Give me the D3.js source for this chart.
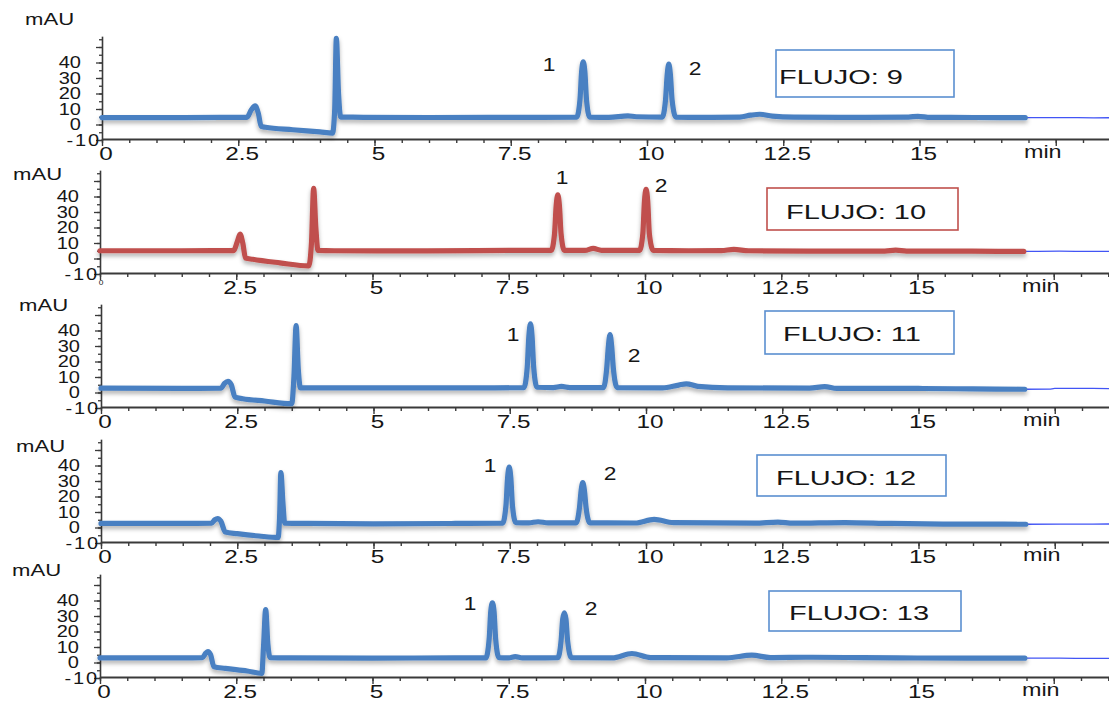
<!DOCTYPE html>
<html>
<head>
<meta charset="utf-8">
<script src="https://cdn.jsdelivr.net/npm/d3@7"></script>
<style>
body { margin: 0; background: #fff; }
text { font-family: "Liberation Sans", Arial, sans-serif; fill: #161616; }
.axis path, .axis line { stroke: #3a3a3a; }
</style>
</head>
<body>
<script>
var width = 1109,
    height = 702;

// chromatograms, [min, mAU]
var flujo9 = [[0,4.5],[1.5,4.5],[2.66,4.6],[2.74,9.5],[2.81,12],[2.87,7],[2.92,-1.2],[3.0,-1.8],[3.5,-3.4],[4.0,-4.8],[4.23,-5.5],[4.27,10],[4.30,55.6],[4.34,20],[4.38,4.8],[4.6,4.7],[6,4.5],[7.5,4.6],[8.71,4.7],[8.77,16],[8.80,34],[8.83,40.5],[8.86,34],[8.89,16],[8.95,4.8],[9.3,4.6],[9.65,5.6],[9.8,5.0],[10.28,4.8],[10.34,16],[10.37,32],[10.40,39],[10.43,32],[10.46,16],[10.53,4.8],[11,4.6],[11.7,4.8],[11.9,6],[12.07,6.6],[12.3,5.4],[12.7,4.8],[14,4.6],[14.8,4.8],[14.97,5.3],[15.2,4.6],[16,4.5],[16.94,4.4]];
var flujo10 = [[0,5],[1.5,5],[2.45,5.1],[2.52,11],[2.57,15.8],[2.62,10],[2.67,0.3],[2.8,-0.5],[3.3,-2.8],[3.83,-4.8],[3.88,10],[3.92,45.3],[3.96,20],[4.0,5.2],[4.3,5],[6,4.9],[7.5,5.2],[8.28,5.3],[8.34,16],[8.37,34],[8.40,41],[8.43,34],[8.46,16],[8.52,5.3],[8.9,5.2],[9.05,6.5],[9.2,5.3],[9.90,5.3],[9.96,16],[9.99,37],[10.02,44.6],[10.05,37],[10.08,16],[10.15,5.3],[10.8,5],[11.4,5.1],[11.63,5.9],[11.9,5],[13,4.8],[14.4,4.8],[14.6,5.4],[14.8,4.8],[16,4.7],[16.95,4.6]];
var flujo11 = [[0,2.8],[1.5,2.7],[2.2,2.8],[2.27,6],[2.33,7.2],[2.39,5],[2.46,-3],[2.6,-4],[3.0,-5.5],[3.50,-7.2],[3.54,10],[3.58,43.2],[3.62,15],[3.66,3],[4,3],[5.5,3],[7,3],[7.76,3.2],[7.82,16],[7.85,36],[7.88,44.3],[7.91,36],[7.94,16],[8.0,3.4],[8.3,3.2],[8.45,3.9],[8.6,3.2],[9.22,3.2],[9.28,16],[9.31,30],[9.34,37.3],[9.37,30],[9.40,16],[9.47,3.2],[10.3,3],[10.6,4.8],[10.74,5.6],[10.95,4],[11.5,3],[13,2.8],[13.28,3.8],[13.5,2.6],[15,2.6],[16,2.3],[16.95,2.1]];
var flujo12 = [[0,2.6],[1.5,2.6],[2.03,2.8],[2.09,5],[2.14,5.7],[2.2,4],[2.28,-2.9],[2.5,-4],[2.9,-5.5],[3.25,-6.4],[3.28,10],[3.30,35.4],[3.34,15],[3.37,2.8],[3.8,2.6],[5,2.4],[6.5,2.6],[7.37,2.8],[7.43,14],[7.46,32],[7.49,39],[7.52,32],[7.55,14],[7.61,3.2],[7.85,3],[8.02,3.7],[8.2,3],[8.72,3],[8.78,13],[8.81,24],[8.84,28.9],[8.87,24],[8.90,13],[8.97,3],[9.8,2.9],[10.15,5.3],[10.5,3.2],[12,2.8],[12.42,3.5],[12.7,2.8],[13.65,3.2],[14.5,2.6],[15.5,2.2],[16.97,2.1]];
var flujo13 = [[0,3],[1.5,3],[1.88,3.2],[1.94,6],[1.98,7.1],[2.03,5],[2.09,-2.7],[2.3,-3.8],[2.7,-5.5],[2.97,-7],[3.00,10],[3.04,34.2],[3.08,12],[3.12,3.2],[3.5,3],[5,2.8],[6.5,3],[7.08,3],[7.14,15],[7.17,33],[7.20,38.5],[7.23,33],[7.26,15],[7.32,3.2],[7.5,3],[7.62,3.8],[7.75,3],[8.40,3.1],[8.46,14],[8.49,28],[8.52,32.1],[8.55,28],[8.58,14],[8.65,3.1],[9.4,3],[9.76,5.8],[10.1,3.2],[11.5,3],[11.96,4.7],[12.3,3.2],[13,3.4],[14,3.1],[15,2.9],[16.97,2.8]];

// thin trace after the run ends
var tail9 = [[16.94,4.4],[17.6,4.5],[18.2,4.3],[18.7,4.4]];
var tail10 = [[16.95,4.6],[17.6,4.7],[18.2,4.6],[18.7,4.6]];
var tail11 = [[16.95,2.1],[17.4,2.2],[17.5,2.6],[18.2,2.6],[18.7,2.5]];
var tail12 = [[16.97,2.1],[17.6,2.2],[18.2,2.2],[18.7,2.3]];
var tail13 = [[16.97,2.8],[17.6,2.8],[18.2,2.6],[18.7,2.8]];

var xTicks = [0, 2.5, 5, 7.5, 10, 12.5, 15];
var xTickLabels = ["0", "2.5", "5", "7.5", "10", "12.5", "15"];
var yTicks = [-10, 0, 10, 20, 30, 40];
var yTickLabels = ["-10", "0", "10", "20", "30", "40"];
var flujoLabels = ["FLUJO: 9", "FLUJO: 10", "FLUJO: 11", "FLUJO: 12", "FLUJO: 13"];
var peakNames = ["1", "2"];

var blue = "#4a80c2", red = "#c0504d";

var panels = [
  {data: flujo9,  tail: tail9,  color: blue, box: "#5b8fd0", x0: 102, axisY: 139, mau: [25, 25],  rect: [776, 50, 178, 47],  tx: 779, ty: 84,  p1: [549, 71],  p2: [695, 75]},
  {data: flujo10, tail: tail10, color: red,  box: red,       x0: 100, axisY: 273, mau: [13, 180], rect: [767, 188, 191, 42], tx: 786, ty: 219, p1: [562, 184], p2: [661, 192], tinyZero: true},
  {data: flujo11, tail: tail11, color: blue, box: "#5b8fd0", x0: 101, axisY: 407, mau: [19, 311], rect: [765, 311, 189, 43], tx: 783, ty: 341, p1: [513, 341], p2: [634, 362]},
  {data: flujo12, tail: tail12, color: blue, box: "#5b8fd0", x0: 101, axisY: 542, mau: [16, 452], rect: [757, 455, 189, 41], tx: 776, ty: 485, p1: [490, 472], p2: [610, 480]},
  {data: flujo13, tail: tail13, color: blue, box: "#5b8fd0", x0: 100, axisY: 677, mau: [12, 576], rect: [769, 591, 192, 40], tx: 789, ty: 620, p1: [470, 610], p2: [591, 615]}
];

var svg = d3.select("body").append("svg")
    .attr("width", width)
    .attr("height", height);

var defs = svg.append("defs");
var shadow = defs.append("filter").attr("id", "shadow")
    .attr("x", "-5%").attr("y", "-20%").attr("width", "110%").attr("height", "160%");
shadow.append("feDropShadow")
    .attr("dx", 0).attr("dy", 3)
    .attr("stdDeviation", 2.2)
    .attr("flood-color", "#000")
    .attr("flood-opacity", 0.3);

// stretched text, the original figure is widened
function stext(g, x, y, str, size, anchor, sx) {
  return g.append("text")
      .attr("transform", "translate(" + x + "," + y + ") scale(" + sx + ",1)")
      .attr("text-anchor", anchor)
      .style("font-size", size + "px")
      .text(str);
}

panels.forEach(function(p, i) {
  var g = svg.append("g");
  var x = d3.scaleLinear()
      .domain([0, (width - p.x0) / 54.5])
      .range([p.x0, width]);
  var y = d3.scaleLinear()
      .domain([-10, 57])
      .range([p.axisY + 1, p.axisY + 1 - 67 * 1.55]);

  // x axis: minor every 0.5 min, major every 2.5
  g.append("g").attr("class", "axis")
      .attr("transform", "translate(0," + p.axisY + ")")
      .call(d3.axisBottom(x).tickValues(d3.range(0, 18.6, 0.5)).tickSize(4).tickSizeOuter(0).tickFormat(""))
      .call(function(a) { a.select(".domain").attr("stroke-width", 2); a.selectAll("line").attr("stroke-width", 1.4); });
  g.append("g").attr("class", "axis")
      .attr("transform", "translate(0," + p.axisY + ")")
      .call(d3.axisBottom(x).tickValues([0, 2.5, 5, 7.5, 10, 12.5, 15, 17.5]).tickSize(7).tickSizeOuter(0).tickFormat(""))
      .call(function(a) { a.select(".domain").remove(); a.selectAll("line").attr("stroke-width", 1.4); });

  // y axis
  g.append("g").attr("class", "axis")
      .attr("transform", "translate(" + p.x0 + ",0)")
      .call(d3.axisLeft(y).tickValues(d3.range(-10, 56, 5)).tickSize(3).tickSizeOuter(0).tickFormat(""))
      .call(function(a) { a.select(".domain").attr("stroke-width", 1.6); a.selectAll("line").attr("stroke-width", 1.3); });
  g.append("g").attr("class", "axis")
      .attr("transform", "translate(" + p.x0 + ",0)")
      .call(d3.axisLeft(y).tickValues(d3.range(-10, 56, 10)).tickSize(6).tickSizeOuter(0).tickFormat(""))
      .call(function(a) { a.select(".domain").remove(); a.selectAll("line").attr("stroke-width", 1.3); });

  // tick labels
  xTicks.forEach(function(t, k) {
    if (k === 0 && p.tinyZero) {
      stext(g, x(t) + 1, p.axisY + 12, "0", 7, "middle", 1.2);
    } else {
      stext(g, x(t) + 4, p.axisY + 21, xTickLabels[k], 18, "middle", 1.35);
    }
  });
  stext(g, x(17.5) - 13, p.axisY + 19, "min", 18, "middle", 1.3);
  yTicks.forEach(function(v, k) {
    var xr = v < 0 ? p.x0 - 1 : p.x0 - 21;
    stext(g, xr, y(v) + 5.5, yTickLabels[k], 16, "end", 1.25)
        .style("letter-spacing", v < 0 ? "1.5px" : null);
  });
  stext(g, p.mau[0], p.mau[1], "mAU", 17, "start", 1.3);

  // traces
  var line = d3.line()
      .x(function(d) { return x(d[0]); })
      .y(function(d) { return y(d[1]); })
      .curve(d3.curveMonotoneX);
  g.append("path")
      .datum(p.tail)
      .attr("fill", "none")
      .attr("stroke", "#4255f5")
      .attr("stroke-width", 1.3)
      .attr("d", line);
  g.append("path")
      .datum(p.data)
      .attr("fill", "none")
      .attr("stroke", p.color)
      .attr("stroke-width", 5.2)
      .attr("stroke-linejoin", "round")
      .attr("stroke-linecap", "round")
      .attr("filter", "url(#shadow)")
      .attr("d", line);

  // peak numbers
  stext(g, p.p1[0], p.p1[1], peakNames[0], 19, "middle", 1.2);
  stext(g, p.p2[0], p.p2[1], peakNames[1], 19, "middle", 1.2);

  // flow box
  g.append("rect")
      .attr("x", p.rect[0]).attr("y", p.rect[1])
      .attr("width", p.rect[2]).attr("height", p.rect[3])
      .attr("fill", "#fff")
      .attr("stroke", p.box)
      .attr("stroke-width", 1.6);
  stext(g, p.tx, p.ty, flujoLabels[i], 21, "start", 1.38);
});
</script>
</body>
</html>
